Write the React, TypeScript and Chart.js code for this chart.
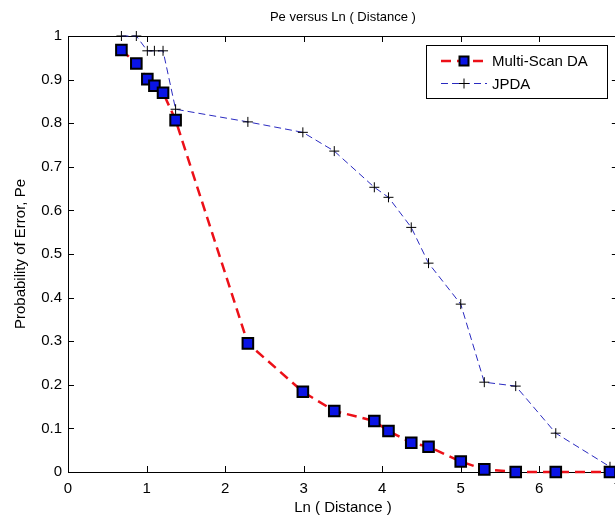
import React, { useEffect, useRef } from "react";
import { Chart, registerables } from "chart.js";

Chart.register(...registerables);

// ---- data ----
const lnDistance = [0.68, 0.87, 1.01, 1.10, 1.21, 1.37, 2.29, 2.99, 3.39, 3.90, 4.08, 4.37, 4.59, 5.00, 5.30, 5.70, 6.21, 6.90];
const multiScanPe = [0.968, 0.937, 0.901, 0.886, 0.870, 0.807, 0.295, 0.184, 0.140, 0.117, 0.094, 0.067, 0.058, 0.024, 0.006, 0.0, 0.0, 0.0];
const jpdaPe = [1.0, 1.0, 0.966, 0.966, 0.966, 0.832, 0.803, 0.779, 0.736, 0.653, 0.630, 0.561, 0.479, 0.385, 0.206, 0.197, 0.089, 0.012];
const xTickValues = [0, 1, 2, 3, 4, 5, 6, 7];
const yTickValues = [0, 0.1, 0.2, 0.3, 0.4, 0.5, 0.6, 0.7, 0.8, 0.9, 1];
const seriesNames = ["Multi-Scan DA", "JPDA"];
const chartTitle = "Pe versus Ln ( Distance )";
const xTitle = "Ln ( Distance )";
const yTitle = "Probability of Error, Pe";

const FONT = "'Liberation Sans', Arial, Helvetica, sans-serif";
const CANVAS_W = 630;
const CANVAS_H = 519;

const framePlugin = {
  id: "matlabFrame",
  beforeDatasetsDraw(chart: any) {
    const { ctx, chartArea: a, scales } = chart;
    const tl = 6;
    ctx.save();
    ctx.strokeStyle = "#000";
    ctx.lineWidth = 1;
    ctx.strokeRect(Math.round(a.left) + 0.5, Math.round(a.top) + 0.5, Math.round(a.right - a.left), Math.round(a.bottom - a.top));
    ctx.beginPath();
    scales.x.ticks.forEach((t: any) => {
      const px = Math.round(scales.x.getPixelForValue(t.value)) + 0.5;
      ctx.moveTo(px, a.bottom);
      ctx.lineTo(px, a.bottom - tl);
      ctx.moveTo(px, a.top);
      ctx.lineTo(px, a.top + tl);
    });
    scales.y.ticks.forEach((t: any) => {
      const py = Math.round(scales.y.getPixelForValue(t.value)) + 0.5;
      ctx.moveTo(a.left, py);
      ctx.lineTo(a.left + tl, py);
      ctx.moveTo(a.right, py);
      ctx.lineTo(a.right - tl, py);
    });
    ctx.stroke();
    ctx.restore();
  },
};

const legendPlugin = {
  id: "matlabLegend",
  afterDraw(chart: any) {
    const { ctx } = chart;
    const bx = 426, by = 45, bw = 181, bh = 53;
    ctx.save();
    ctx.fillStyle = "#fff";
    ctx.fillRect(bx, by, bw, bh);
    ctx.strokeStyle = "#000";
    ctx.lineWidth = 1;
    ctx.strokeRect(bx + 0.5, by + 0.5, bw, bh);
    chart.data.datasets.forEach((ds: any, i: number) => {
      const y = by + 16 + i * 22.5;
      const x0 = bx + 15, x1 = bx + 61, xm = (x0 + x1) / 2;
      ctx.save();
      ctx.strokeStyle = ds.borderColor;
      ctx.lineWidth = ds.borderWidth;
      ctx.setLineDash(ds.borderDash || []);
      ctx.beginPath();
      ctx.moveTo(x0, y);
      ctx.lineTo(x1, y);
      ctx.stroke();
      ctx.restore();
      ctx.save();
      ctx.setLineDash([]);
      if (ds.pointStyle === "rect") {
        const s = 9;
        ctx.fillStyle = ds.pointBackgroundColor;
        ctx.fillRect(xm - s / 2, y - s / 2, s, s);
        ctx.strokeStyle = ds.pointBorderColor;
        ctx.lineWidth = ds.pointBorderWidth;
        ctx.strokeRect(xm - s / 2, y - s / 2, s, s);
      } else {
        ctx.strokeStyle = ds.pointBorderColor;
        ctx.lineWidth = 1;
        ctx.beginPath();
        ctx.moveTo(xm - 5, y);
        ctx.lineTo(xm + 5, y);
        ctx.moveTo(xm, y - 5);
        ctx.lineTo(xm, y + 5);
        ctx.stroke();
      }
      ctx.restore();
      ctx.fillStyle = "#000";
      ctx.font = `15px ${FONT}`;
      ctx.textBaseline = "middle";
      ctx.textAlign = "left";
      ctx.fillText(ds.label, x1 + 5, y + 1);
    });
    ctx.restore();
  },
};

export default function App() {
  const canvasRef = useRef<HTMLCanvasElement | null>(null);

  useEffect(() => {
    document.body.style.margin = "0";
    const canvas = canvasRef.current;
    if (!canvas) return;
    const chart = new Chart(canvas, {
      type: "line",
      data: {
        datasets: [
          {
            label: seriesNames[0],
            data: lnDistance.map((x, i) => ({ x, y: multiScanPe[i] })),
            borderColor: "#ec1018",
            borderWidth: 2.5,
            borderDash: [10, 6],
            pointStyle: "rect",
            pointRadius: 7.5,
            pointBackgroundColor: "#0a14e6",
            pointBorderColor: "#000",
            pointBorderWidth: 2,
            clip: false,
            order: 1,
          },
          {
            label: seriesNames[1],
            data: lnDistance.map((x, i) => ({ x, y: jpdaPe[i] })),
            borderColor: "#2a2ac0",
            borderWidth: 1,
            borderDash: [7, 4],
            pointStyle: "cross",
            pointRadius: 5,
            pointBackgroundColor: "#000",
            pointBorderColor: "#000",
            pointBorderWidth: 1,
            clip: false,
            order: 2,
          },
        ],
      },
      options: {
        responsive: false,
        animation: false,
        devicePixelRatio: 1,
        layout: { padding: { left: 0, right: CANVAS_W - 619, top: 0, bottom: 0 } },
        plugins: {
          legend: { display: false },
          tooltip: { enabled: false },
          title: {
            display: true,
            fullSize: false,
            text: chartTitle,
            color: "#000",
            font: { family: FONT, size: 13, weight: "normal" },
            padding: { top: 10, bottom: 10.4 },
          },
        },
        scales: {
          x: {
            type: "linear",
            min: 0,
            max: 7,
            afterBuildTicks: (s: any) => {
              s.ticks = xTickValues.map((v) => ({ value: v }));
            },
            afterFit: (s: any) => {
              s.height = CANVAS_H - 472;
            },
            grid: { display: false, drawTicks: false },
            border: { display: false },
            ticks: {
              color: "#000",
              font: { family: FONT, size: 15 },
              padding: 8,
              maxRotation: 0,
              autoSkip: false,
              callback: (v: any) => String(v),
            },
            title: {
              display: true,
              text: xTitle,
              color: "#000",
              font: { family: FONT, size: 15 },
              padding: { top: 2, bottom: 2 },
            },
          },
          y: {
            type: "linear",
            min: 0,
            max: 1,
            afterBuildTicks: (s: any) => {
              s.ticks = yTickValues.map((v) => ({ value: v }));
            },
            afterFit: (s: any) => {
              s.width = 68;
            },
            grid: { display: false, drawTicks: false },
            border: { display: false },
            ticks: {
              color: "#000",
              font: { family: FONT, size: 15 },
              padding: 6,
              autoSkip: false,
              callback: (v: any) => String(Math.round(Number(v) * 10) / 10),
            },
            title: {
              display: true,
              text: yTitle,
              color: "#000",
              font: { family: FONT, size: 15 },
              padding: { top: 12, bottom: 12 },
            },
          },
        },
      },
      plugins: [framePlugin, legendPlugin],
    } as any);
    return () => chart.destroy();
  }, []);

  return (
    <div style={{ position: "absolute", left: 0, top: 0, width: 615, height: 519, overflow: "hidden", background: "#fff" }}>
      <canvas ref={canvasRef} width={CANVAS_W} height={CANVAS_H} style={{ display: "block", width: CANVAS_W, height: CANVAS_H }} />
    </div>
  );
}
